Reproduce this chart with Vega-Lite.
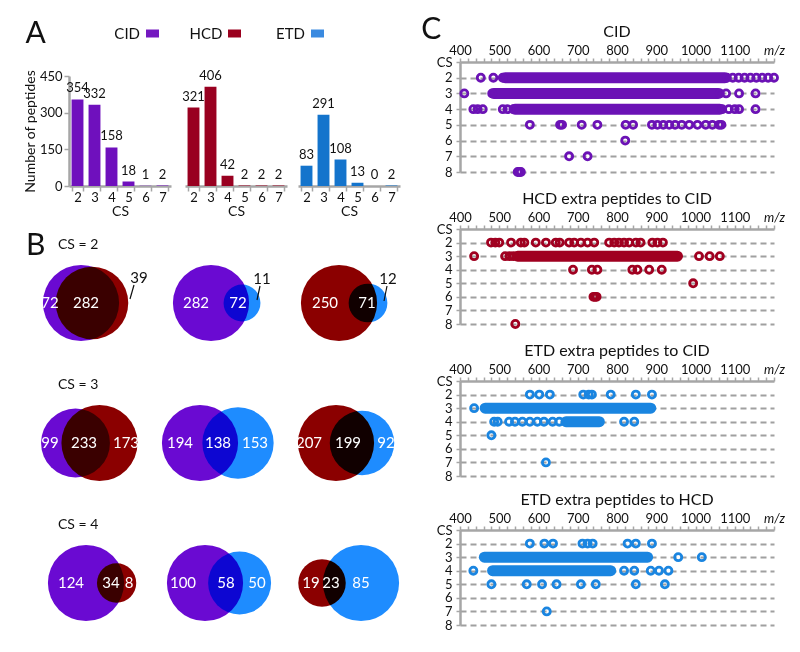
{
"$schema": "https://vega.github.io/schema/vega-lite/v6.json",
"background": "white",
"padding": {"left": 23, "top": 15, "right": 5, "bottom": 5},
"config": {
  "font": "Lato",
  "view": {"stroke": null},
  "axis": {"domainColor": "#a6a6a6", "domainWidth": 2.5, "tickColor": "#a6a6a6", "tickWidth": 1.5, "labelColor": "#111", "labelFont": "Lato", "labelFontSize": 13, "titleFont": "Lato", "titleFontSize": 14, "titleFontWeight": "normal", "titleColor": "#111", "grid": false},
  "title": {"font": "Lato", "fontWeight": "normal", "color": "#111"},
  "text": {"font": "Lato"}
},
"datasets": {
  "bars": [
    {"m": "CID", "cs": 2, "n": 354}, {"m": "CID", "cs": 3, "n": 332}, {"m": "CID", "cs": 4, "n": 158}, {"m": "CID", "cs": 5, "n": 18}, {"m": "CID", "cs": 6, "n": 1}, {"m": "CID", "cs": 7, "n": 2},
    {"m": "HCD", "cs": 2, "n": 321}, {"m": "HCD", "cs": 3, "n": 406}, {"m": "HCD", "cs": 4, "n": 42}, {"m": "HCD", "cs": 5, "n": 2}, {"m": "HCD", "cs": 6, "n": 2}, {"m": "HCD", "cs": 7, "n": 2},
    {"m": "ETD", "cs": 2, "n": 83}, {"m": "ETD", "cs": 3, "n": 291}, {"m": "ETD", "cs": 4, "n": 108}, {"m": "ETD", "cs": 5, "n": 13}, {"m": "ETD", "cs": 6, "n": 0}, {"m": "ETD", "cs": 7, "n": 2}
  ],
  "legend": [{"m": "CID"}, {"m": "HCD"}, {"m": "ETD"}],
  "venn": [
    {"cs": 2, "pair": "CID-HCD", "kind": "circle", "set": "CID", "n": 354, "x": 56, "y": 0},
    {"cs": 2, "pair": "CID-HCD", "kind": "circle", "set": "HCD", "n": 321, "x": 67, "y": 0},
    {"cs": 2, "pair": "CID-HCD", "kind": "in", "t": "72", "x": 25, "y": 0},
    {"cs": 2, "pair": "CID-HCD", "kind": "in", "t": "282", "x": 61, "y": 0},
    {"cs": 2, "pair": "CID-HCD", "kind": "out", "t": "39", "x": 114, "y": -25},
    {"cs": 2, "pair": "CID-HCD", "kind": "leader", "x": 109, "y": -18, "x2": 105, "y2": -4},
    {"cs": 2, "pair": "CID-HCD", "kind": "cs", "t": "CS = 2", "x": 33, "y": -58},
    {"cs": 2, "pair": "CID-ETD", "kind": "circle", "set": "CID", "n": 354, "x": 58, "y": 0},
    {"cs": 2, "pair": "CID-ETD", "kind": "circle", "set": "ETD", "n": 83, "x": 89, "y": 0},
    {"cs": 2, "pair": "CID-ETD", "kind": "in", "t": "282", "x": 43, "y": 0},
    {"cs": 2, "pair": "CID-ETD", "kind": "in", "t": "72", "x": 85, "y": 0},
    {"cs": 2, "pair": "CID-ETD", "kind": "out", "t": "11", "x": 109, "y": -24},
    {"cs": 2, "pair": "CID-ETD", "kind": "leader", "x": 107, "y": -17, "x2": 104, "y2": -3},
    {"cs": 2, "pair": "HCD-ETD", "kind": "circle", "set": "HCD", "n": 321, "x": 58, "y": 0},
    {"cs": 2, "pair": "HCD-ETD", "kind": "circle", "set": "ETD", "n": 83, "x": 87, "y": 0},
    {"cs": 2, "pair": "HCD-ETD", "kind": "in", "t": "250", "x": 44, "y": 0},
    {"cs": 2, "pair": "HCD-ETD", "kind": "in", "t": "71", "x": 86, "y": 0},
    {"cs": 2, "pair": "HCD-ETD", "kind": "out", "t": "12", "x": 107, "y": -24},
    {"cs": 2, "pair": "HCD-ETD", "kind": "leader", "x": 106, "y": -17, "x2": 103, "y2": -2},
    {"cs": 3, "pair": "CID-HCD", "kind": "circle", "set": "CID", "n": 332, "x": 50.5, "y": 0},
    {"cs": 3, "pair": "CID-HCD", "kind": "circle", "set": "HCD", "n": 406, "x": 74.5, "y": 0},
    {"cs": 3, "pair": "CID-HCD", "kind": "in", "t": "99", "x": 25, "y": 0},
    {"cs": 3, "pair": "CID-HCD", "kind": "in", "t": "233", "x": 59, "y": 0},
    {"cs": 3, "pair": "CID-HCD", "kind": "in", "t": "173", "x": 101, "y": 0},
    {"cs": 3, "pair": "CID-HCD", "kind": "cs", "t": "CS = 3", "x": 33, "y": -58},
    {"cs": 3, "pair": "CID-ETD", "kind": "circle", "set": "CID", "n": 332, "x": 47, "y": 0},
    {"cs": 3, "pair": "CID-ETD", "kind": "circle", "set": "ETD", "n": 291, "x": 85, "y": 0},
    {"cs": 3, "pair": "CID-ETD", "kind": "in", "t": "194", "x": 27, "y": 0},
    {"cs": 3, "pair": "CID-ETD", "kind": "in", "t": "138", "x": 65, "y": 0},
    {"cs": 3, "pair": "CID-ETD", "kind": "in", "t": "153", "x": 102, "y": 0},
    {"cs": 3, "pair": "HCD-ETD", "kind": "circle", "set": "HCD", "n": 406, "x": 55, "y": 0},
    {"cs": 3, "pair": "HCD-ETD", "kind": "circle", "set": "ETD", "n": 291, "x": 81, "y": 0},
    {"cs": 3, "pair": "HCD-ETD", "kind": "in", "t": "207", "x": 28, "y": 0},
    {"cs": 3, "pair": "HCD-ETD", "kind": "in", "t": "199", "x": 67, "y": 0},
    {"cs": 3, "pair": "HCD-ETD", "kind": "in", "t": "92", "x": 105, "y": 0},
    {"cs": 4, "pair": "CID-HCD", "kind": "circle", "set": "CID", "n": 158, "x": 61, "y": 0},
    {"cs": 4, "pair": "CID-HCD", "kind": "circle", "set": "HCD", "n": 42, "x": 91.6, "y": 0},
    {"cs": 4, "pair": "CID-HCD", "kind": "in", "t": "124", "x": 46, "y": 0},
    {"cs": 4, "pair": "CID-HCD", "kind": "in", "t": "34", "x": 86, "y": 0},
    {"cs": 4, "pair": "CID-HCD", "kind": "in", "t": "8", "x": 104, "y": 0},
    {"cs": 4, "pair": "CID-HCD", "kind": "cs", "t": "CS = 4", "x": 33, "y": -58},
    {"cs": 4, "pair": "CID-ETD", "kind": "circle", "set": "CID", "n": 158, "x": 52, "y": 0},
    {"cs": 4, "pair": "CID-ETD", "kind": "circle", "set": "ETD", "n": 108, "x": 86.6, "y": 0},
    {"cs": 4, "pair": "CID-ETD", "kind": "in", "t": "100", "x": 30, "y": 0},
    {"cs": 4, "pair": "CID-ETD", "kind": "in", "t": "58", "x": 73, "y": 0},
    {"cs": 4, "pair": "CID-ETD", "kind": "in", "t": "50", "x": 104, "y": 0},
    {"cs": 4, "pair": "HCD-ETD", "kind": "circle", "set": "HCD", "n": 42, "x": 41, "y": 0},
    {"cs": 4, "pair": "HCD-ETD", "kind": "circle", "set": "ETD", "n": 108, "x": 80, "y": 0},
    {"cs": 4, "pair": "HCD-ETD", "kind": "in", "t": "19", "x": 30, "y": 0},
    {"cs": 4, "pair": "HCD-ETD", "kind": "in", "t": "23", "x": 50, "y": 0},
    {"cs": 4, "pair": "HCD-ETD", "kind": "in", "t": "85", "x": 80, "y": 0}
  ],
  "mz": [
    {"p": "CID", "cs": 2, "mz": 453}, {"p": "CID", "cs": 2, "mz": 485}, {"p": "CID", "cs": 2, "mz": 509}, {"p": "CID", "cs": 2, "mz": 515, "mz2": 1075},
    {"p": "CID", "cs": 2, "mz": 1080}, {"p": "CID", "cs": 2, "mz": 1095}, {"p": "CID", "cs": 2, "mz": 1110}, {"p": "CID", "cs": 2, "mz": 1125}, {"p": "CID", "cs": 2, "mz": 1140}, {"p": "CID", "cs": 2, "mz": 1155}, {"p": "CID", "cs": 2, "mz": 1170}, {"p": "CID", "cs": 2, "mz": 1185}, {"p": "CID", "cs": 2, "mz": 1200},
    {"p": "CID", "cs": 3, "mz": 411}, {"p": "CID", "cs": 3, "mz": 482}, {"p": "CID", "cs": 3, "mz": 486, "mz2": 1058}, {"p": "CID", "cs": 3, "mz": 1062}, {"p": "CID", "cs": 3, "mz": 1078}, {"p": "CID", "cs": 3, "mz": 1111}, {"p": "CID", "cs": 3, "mz": 1153},
    {"p": "CID", "cs": 4, "mz": 434}, {"p": "CID", "cs": 4, "mz": 445}, {"p": "CID", "cs": 4, "mz": 458}, {"p": "CID", "cs": 4, "mz": 509}, {"p": "CID", "cs": 4, "mz": 521}, {"p": "CID", "cs": 4, "mz": 536}, {"p": "CID", "cs": 4, "mz": 540, "mz2": 1062},
    {"p": "CID", "cs": 4, "mz": 1068}, {"p": "CID", "cs": 4, "mz": 1085}, {"p": "CID", "cs": 4, "mz": 1100}, {"p": "CID", "cs": 4, "mz": 1111}, {"p": "CID", "cs": 4, "mz": 1153},
    {"p": "CID", "cs": 5, "mz": 578}, {"p": "CID", "cs": 5, "mz": 655}, {"p": "CID", "cs": 5, "mz": 660}, {"p": "CID", "cs": 5, "mz": 710}, {"p": "CID", "cs": 5, "mz": 750}, {"p": "CID", "cs": 5, "mz": 822}, {"p": "CID", "cs": 5, "mz": 841},
    {"p": "CID", "cs": 5, "mz": 889}, {"p": "CID", "cs": 5, "mz": 903}, {"p": "CID", "cs": 5, "mz": 918}, {"p": "CID", "cs": 5, "mz": 933}, {"p": "CID", "cs": 5, "mz": 948}, {"p": "CID", "cs": 5, "mz": 965}, {"p": "CID", "cs": 5, "mz": 984}, {"p": "CID", "cs": 5, "mz": 1005}, {"p": "CID", "cs": 5, "mz": 1026}, {"p": "CID", "cs": 5, "mz": 1043}, {"p": "CID", "cs": 5, "mz": 1060}, {"p": "CID", "cs": 5, "mz": 1066},
    {"p": "CID", "cs": 6, "mz": 821}, {"p": "CID", "cs": 7, "mz": 678}, {"p": "CID", "cs": 7, "mz": 725}, {"p": "CID", "cs": 8, "mz": 547}, {"p": "CID", "cs": 8, "mz": 551}, {"p": "CID", "cs": 8, "mz": 555},
    {"p": "HCD", "cs": 2, "mz": 479}, {"p": "HCD", "cs": 2, "mz": 490}, {"p": "HCD", "cs": 2, "mz": 500}, {"p": "HCD", "cs": 2, "mz": 530}, {"p": "HCD", "cs": 2, "mz": 555}, {"p": "HCD", "cs": 2, "mz": 564}, {"p": "HCD", "cs": 2, "mz": 593}, {"p": "HCD", "cs": 2, "mz": 619}, {"p": "HCD", "cs": 2, "mz": 644}, {"p": "HCD", "cs": 2, "mz": 654},
    {"p": "HCD", "cs": 2, "mz": 678}, {"p": "HCD", "cs": 2, "mz": 691}, {"p": "HCD", "cs": 2, "mz": 708}, {"p": "HCD", "cs": 2, "mz": 725}, {"p": "HCD", "cs": 2, "mz": 742}, {"p": "HCD", "cs": 2, "mz": 780}, {"p": "HCD", "cs": 2, "mz": 793}, {"p": "HCD", "cs": 2, "mz": 805}, {"p": "HCD", "cs": 2, "mz": 818}, {"p": "HCD", "cs": 2, "mz": 831},
    {"p": "HCD", "cs": 2, "mz": 848}, {"p": "HCD", "cs": 2, "mz": 860}, {"p": "HCD", "cs": 2, "mz": 890}, {"p": "HCD", "cs": 2, "mz": 903}, {"p": "HCD", "cs": 2, "mz": 917},
    {"p": "HCD", "cs": 3, "mz": 436}, {"p": "HCD", "cs": 3, "mz": 515}, {"p": "HCD", "cs": 3, "mz": 526}, {"p": "HCD", "cs": 3, "mz": 536}, {"p": "HCD", "cs": 3, "mz": 547, "mz2": 954}, {"p": "HCD", "cs": 3, "mz": 1009}, {"p": "HCD", "cs": 3, "mz": 1036}, {"p": "HCD", "cs": 3, "mz": 1062},
    {"p": "HCD", "cs": 4, "mz": 688}, {"p": "HCD", "cs": 4, "mz": 736}, {"p": "HCD", "cs": 4, "mz": 750}, {"p": "HCD", "cs": 4, "mz": 839}, {"p": "HCD", "cs": 4, "mz": 852}, {"p": "HCD", "cs": 4, "mz": 882}, {"p": "HCD", "cs": 4, "mz": 914},
    {"p": "HCD", "cs": 5, "mz": 994}, {"p": "HCD", "cs": 6, "mz": 740}, {"p": "HCD", "cs": 6, "mz": 744}, {"p": "HCD", "cs": 6, "mz": 748}, {"p": "HCD", "cs": 8, "mz": 541},
    {"p": "ETDC", "cs": 2, "mz": 578}, {"p": "ETDC", "cs": 2, "mz": 602}, {"p": "ETDC", "cs": 2, "mz": 629}, {"p": "ETDC", "cs": 2, "mz": 714}, {"p": "ETDC", "cs": 2, "mz": 728}, {"p": "ETDC", "cs": 2, "mz": 736}, {"p": "ETDC", "cs": 2, "mz": 784}, {"p": "ETDC", "cs": 2, "mz": 848}, {"p": "ETDC", "cs": 2, "mz": 889},
    {"p": "ETDC", "cs": 3, "mz": 436}, {"p": "ETDC", "cs": 3, "mz": 464, "mz2": 886},
    {"p": "ETDC", "cs": 4, "mz": 487}, {"p": "ETDC", "cs": 4, "mz": 496}, {"p": "ETDC", "cs": 4, "mz": 525}, {"p": "ETDC", "cs": 4, "mz": 540}, {"p": "ETDC", "cs": 4, "mz": 559}, {"p": "ETDC", "cs": 4, "mz": 578}, {"p": "ETDC", "cs": 4, "mz": 597}, {"p": "ETDC", "cs": 4, "mz": 614}, {"p": "ETDC", "cs": 4, "mz": 636}, {"p": "ETDC", "cs": 4, "mz": 653},
    {"p": "ETDC", "cs": 4, "mz": 670, "mz2": 755}, {"p": "ETDC", "cs": 4, "mz": 818}, {"p": "ETDC", "cs": 4, "mz": 844},
    {"p": "ETDC", "cs": 5, "mz": 480}, {"p": "ETDC", "cs": 7, "mz": 619},
    {"p": "ETDH", "cs": 2, "mz": 578}, {"p": "ETDH", "cs": 2, "mz": 615}, {"p": "ETDH", "cs": 2, "mz": 637}, {"p": "ETDH", "cs": 2, "mz": 712}, {"p": "ETDH", "cs": 2, "mz": 725}, {"p": "ETDH", "cs": 2, "mz": 738}, {"p": "ETDH", "cs": 2, "mz": 827}, {"p": "ETDH", "cs": 2, "mz": 848}, {"p": "ETDH", "cs": 2, "mz": 889},
    {"p": "ETDH", "cs": 3, "mz": 462, "mz2": 878}, {"p": "ETDH", "cs": 3, "mz": 956}, {"p": "ETDH", "cs": 3, "mz": 1016},
    {"p": "ETDH", "cs": 4, "mz": 434}, {"p": "ETDH", "cs": 4, "mz": 483, "mz2": 784}, {"p": "ETDH", "cs": 4, "mz": 818}, {"p": "ETDH", "cs": 4, "mz": 844}, {"p": "ETDH", "cs": 4, "mz": 886}, {"p": "ETDH", "cs": 4, "mz": 907}, {"p": "ETDH", "cs": 4, "mz": 931},
    {"p": "ETDH", "cs": 5, "mz": 480}, {"p": "ETDH", "cs": 5, "mz": 570}, {"p": "ETDH", "cs": 5, "mz": 609}, {"p": "ETDH", "cs": 5, "mz": 646}, {"p": "ETDH", "cs": 5, "mz": 708}, {"p": "ETDH", "cs": 5, "mz": 746}, {"p": "ETDH", "cs": 5, "mz": 848}, {"p": "ETDH", "cs": 5, "mz": 922},
    {"p": "ETDH", "cs": 7, "mz": 621}
  ]
},
"hconcat": [
  {
    "vconcat": [
      {
        "vconcat": [
          {
            "data": {"name": "legend"},
            "width": 330, "height": 1,
            "mark": {"type": "point", "opacity": 0},
            "encoding": {"x": {"field": "m", "type": "nominal", "sort": ["CID", "HCD", "ETD"], "scale": {"type": "point", "padding": 1.357, "align": 0.5},
              "axis": {"orient": "top", "offset": 25, "domain": false, "ticks": true, "tickSize": 8, "tickWidth": 13,
                       "tickColor": {"condition": [{"test": "datum.value == 'CID'", "value": "#7418c0"}, {"test": "datum.value == 'HCD'", "value": "#9a001e"}], "value": "#3a8ae0"},
                       "labelAlign": "right", "labelBaseline": "middle", "labelPadding": -4, "labelOffset": -12, "labelFontSize": 15, "labelColor": "#111", "labelAngle": 0,
                       "title": "A", "titleFontSize": 30, "titleX": -44, "titleY": -4, "titleAlign": "left", "titleBaseline": "middle", "titleAngle": 0}}}
          },
          {
            "hconcat": [
              {
                "data": {"name": "bars"}, "transform": [{"filter": "datum.m == 'CID'"}],
                "width": 102, "height": 110,
                "encoding": {
                  "x": {"field": "cs", "type": "ordinal", "title": "CS", "scale": {"paddingInner": 0.3, "paddingOuter": 0.15}, "axis": {"labelAngle": 0, "ticks": true, "tickBand": "extent", "tickSize": 5, "labelPadding": 0, "titlePadding": 0}},
                  "y": {"field": "n", "type": "quantitative", "scale": {"domain": [0, 450], "nice": false}, "title": "Number of peptides", "axis": {"values": [0, 150, 300, 450], "tickSize": 5, "labelPadding": 2, "titlePadding": 2}}
                },
                "layer": [
                  {"mark": {"type": "bar", "color": "#6f10bd"}},
                  {"mark": {"type": "text", "baseline": "bottom", "dy": -4, "fontSize": 13, "color": "#111"}, "encoding": {"text": {"field": "n"}}}
                ]
              },
              {
                "data": {"name": "bars"}, "transform": [{"filter": "datum.m == 'HCD'"}],
                "width": 102, "height": 110,
                "encoding": {
                  "x": {"field": "cs", "type": "ordinal", "title": "CS", "scale": {"paddingInner": 0.3, "paddingOuter": 0.15}, "axis": {"labelAngle": 0, "ticks": true, "tickBand": "extent", "tickSize": 5, "labelPadding": 0, "titlePadding": 0}},
                  "y": {"field": "n", "type": "quantitative", "scale": {"domain": [0, 450], "nice": false}, "axis": null}
                },
                "layer": [
                  {"mark": {"type": "bar", "color": "#990020"}},
                  {"mark": {"type": "text", "baseline": "bottom", "dy": -4, "fontSize": 13, "color": "#111"}, "encoding": {"text": {"field": "n"}}}
                ]
              },
              {
                "data": {"name": "bars"}, "transform": [{"filter": "datum.m == 'ETD'"}],
                "width": 102, "height": 110,
                "encoding": {
                  "x": {"field": "cs", "type": "ordinal", "title": "CS", "scale": {"paddingInner": 0.3, "paddingOuter": 0.15}, "axis": {"labelAngle": 0, "ticks": true, "tickBand": "extent", "tickSize": 5, "labelPadding": 0, "titlePadding": 0}},
                  "y": {"field": "n", "type": "quantitative", "scale": {"domain": [0, 450], "nice": false}, "axis": null}
                },
                "layer": [
                  {"mark": {"type": "bar", "color": "#1474cc"}},
                  {"mark": {"type": "text", "baseline": "bottom", "dy": -4, "fontSize": 13, "color": "#111"}, "encoding": {"text": {"field": "n"}}}
                ]
              }
            ],
            "spacing": 11
          }
        ],
        "spacing": 3
      },
      {
        "data": {"name": "venn"},
        "title": {"text": "B", "anchor": "start", "fontSize": 30, "offset": 0, "dy": 33, "dx": -15},
        "facet": {
          "row": {"field": "cs", "type": "ordinal", "header": null},
          "column": {"field": "pair", "type": "nominal", "sort": ["CID-HCD", "CID-ETD", "HCD-ETD"], "header": null}
        },
        "bounds": "flush",
        "spacing": {"row": 0, "column": 50},
        "resolve": {"scale": {"size": "independent"}},
        "spec": {
          "width": 78, "height": 140,
          "encoding": {
            "x": {"field": "x", "type": "quantitative", "scale": {"domain": [44, 122], "nice": false, "zero": false}, "axis": null},
            "y": {"field": "y", "type": "quantitative", "scale": {"domain": [-75, 65], "nice": false, "zero": false, "reverse": true}, "axis": null}
          },
          "layer": [
            {"transform": [{"filter": "datum.kind == 'circle'"}],
             "mark": {"type": "point", "shape": "circle", "filled": true, "opacity": 1, "blend": "multiply", "clip": false},
             "encoding": {
               "size": {"field": "n", "type": "quantitative", "scale": {"zero": true, "range": [0, 5800]}, "legend": null},
               "color": {"field": "set", "type": "nominal", "scale": {"domain": ["CID", "HCD", "ETD"], "range": ["#6a0ad2", "#8b0000", "#1e8cff"]}, "legend": null}
             }},
            {"transform": [{"filter": "datum.kind == 'leader'"}], "mark": {"type": "rule", "color": "#111", "strokeWidth": 1.2}, "encoding": {"x2": {"field": "x2"}, "y2": {"field": "y2"}}},
            {"transform": [{"filter": "datum.kind == 'in'"}], "mark": {"type": "text", "color": "white", "fontSize": 15}, "encoding": {"text": {"field": "t"}}},
            {"transform": [{"filter": "datum.kind == 'out'"}], "mark": {"type": "text", "color": "#111", "fontSize": 15}, "encoding": {"text": {"field": "t"}}},
            {"transform": [{"filter": "datum.kind == 'cs'"}], "mark": {"type": "text", "align": "left", "color": "#111", "fontSize": 14}, "encoding": {"text": {"field": "t"}}}
          ]
        }
      }
    ],
    "spacing": 10
  },
  {
    "title": {"text": "C", "anchor": "start", "fontSize": 30, "offset": 0, "dy": 21, "dx": -15},
    "vconcat": [
      {
        "data": {"name": "mz"}, "transform": [{"filter": "datum.p == 'CID'"}],
        "title": {"text": "CID", "fontSize": 16, "offset": 4},
        "width": 314, "height": 110,
        "encoding": {
          "x": {"field": "mz", "type": "quantitative", "scale": {"domain": [400, 1200], "nice": false, "zero": false},
                "axis": {"orient": "top", "title": null, "format": "d", "values": [400,420,440,460,480,500,520,540,560,580,600,620,640,660,680,700,720,740,760,780,800,820,840,860,880,900,920,940,960,980,1000,1020,1040,1060,1080,1100,1120,1140,1160,1180,1200],
                         "labelExpr": "datum.value == 1200 ? 'm/z' : (datum.value % 100 == 0 ? datum.label : '')",
                         "labelFontStyle": {"condition": {"test": "datum.value == 1200", "value": "italic"}, "value": "normal"},
                         "tickSize": 4, "labelPadding": 1, "labelOverlap": false, "labelFlush": false}},
          "y": {"field": "cs", "type": "quantitative", "scale": {"domain": [1, 8], "nice": false, "zero": false, "reverse": true},
                "axis": {"title": null, "values": [1,2,3,4,5,6,7,8], "labelExpr": "datum.value == 1 ? 'CS' : datum.label", "grid": true, "gridDash": [6, 4], "gridColor": "#a0a0a0", "gridWidth": 2,
                         "gridOpacity": {"condition": {"test": "datum.value == 1", "value": 0}, "value": 1}, "tickSize": 4, "labelPadding": 4}}
        },
        "layer": [
          {"transform": [{"filter": "isValid(datum.mz2)"}], "mark": {"type": "rule", "strokeWidth": 11, "strokeCap": "round", "color": "#6b12b5"}, "encoding": {"x2": {"field": "mz2"}}},
          {"transform": [{"filter": "!isValid(datum.mz2)"}], "mark": {"type": "point", "shape": "circle", "size": 50, "strokeWidth": 2.8, "color": "#6b12b5", "opacity": 1}}
        ]
      },
      {
        "data": {"name": "mz"}, "transform": [{"filter": "datum.p == 'HCD'"}],
        "title": {"text": "HCD extra peptides to CID", "fontSize": 16, "offset": 4},
        "width": 314, "height": 95,
        "encoding": {
          "x": {"field": "mz", "type": "quantitative", "scale": {"domain": [400, 1200], "nice": false, "zero": false},
                "axis": {"orient": "top", "title": null, "format": "d", "values": [400,420,440,460,480,500,520,540,560,580,600,620,640,660,680,700,720,740,760,780,800,820,840,860,880,900,920,940,960,980,1000,1020,1040,1060,1080,1100,1120,1140,1160,1180,1200],
                         "labelExpr": "datum.value == 1200 ? 'm/z' : (datum.value % 100 == 0 ? datum.label : '')",
                         "labelFontStyle": {"condition": {"test": "datum.value == 1200", "value": "italic"}, "value": "normal"},
                         "tickSize": 4, "labelPadding": 1, "labelOverlap": false, "labelFlush": false}},
          "y": {"field": "cs", "type": "quantitative", "scale": {"domain": [1, 8], "nice": false, "zero": false, "reverse": true},
                "axis": {"title": null, "values": [1,2,3,4,5,6,7,8], "labelExpr": "datum.value == 1 ? 'CS' : datum.label", "grid": true, "gridDash": [6, 4], "gridColor": "#a0a0a0", "gridWidth": 2,
                         "gridOpacity": {"condition": {"test": "datum.value == 1", "value": 0}, "value": 1}, "tickSize": 4, "labelPadding": 4}}
        },
        "layer": [
          {"transform": [{"filter": "isValid(datum.mz2)"}], "mark": {"type": "rule", "strokeWidth": 11, "strokeCap": "round", "color": "#a00020"}, "encoding": {"x2": {"field": "mz2"}}},
          {"transform": [{"filter": "!isValid(datum.mz2)"}], "mark": {"type": "point", "shape": "circle", "size": 50, "strokeWidth": 2.8, "color": "#a00020", "opacity": 1}}
        ]
      },
      {
        "data": {"name": "mz"}, "transform": [{"filter": "datum.p == 'ETDC'"}],
        "title": {"text": "ETD extra peptides to CID", "fontSize": 16, "offset": 4},
        "width": 314, "height": 95,
        "encoding": {
          "x": {"field": "mz", "type": "quantitative", "scale": {"domain": [400, 1200], "nice": false, "zero": false},
                "axis": {"orient": "top", "title": null, "format": "d", "values": [400,420,440,460,480,500,520,540,560,580,600,620,640,660,680,700,720,740,760,780,800,820,840,860,880,900,920,940,960,980,1000,1020,1040,1060,1080,1100,1120,1140,1160,1180,1200],
                         "labelExpr": "datum.value == 1200 ? 'm/z' : (datum.value % 100 == 0 ? datum.label : '')",
                         "labelFontStyle": {"condition": {"test": "datum.value == 1200", "value": "italic"}, "value": "normal"},
                         "tickSize": 4, "labelPadding": 1, "labelOverlap": false, "labelFlush": false}},
          "y": {"field": "cs", "type": "quantitative", "scale": {"domain": [1, 8], "nice": false, "zero": false, "reverse": true},
                "axis": {"title": null, "values": [1,2,3,4,5,6,7,8], "labelExpr": "datum.value == 1 ? 'CS' : datum.label", "grid": true, "gridDash": [6, 4], "gridColor": "#a0a0a0", "gridWidth": 2,
                         "gridOpacity": {"condition": {"test": "datum.value == 1", "value": 0}, "value": 1}, "tickSize": 4, "labelPadding": 4}}
        },
        "layer": [
          {"transform": [{"filter": "isValid(datum.mz2)"}], "mark": {"type": "rule", "strokeWidth": 11, "strokeCap": "round", "color": "#1a85e0"}, "encoding": {"x2": {"field": "mz2"}}},
          {"transform": [{"filter": "!isValid(datum.mz2)"}], "mark": {"type": "point", "shape": "circle", "size": 50, "strokeWidth": 2.8, "color": "#1a85e0", "opacity": 1}}
        ]
      },
      {
        "data": {"name": "mz"}, "transform": [{"filter": "datum.p == 'ETDH'"}],
        "title": {"text": "ETD extra peptides to HCD", "fontSize": 16, "offset": 4},
        "width": 314, "height": 95,
        "encoding": {
          "x": {"field": "mz", "type": "quantitative", "scale": {"domain": [400, 1200], "nice": false, "zero": false},
                "axis": {"orient": "top", "title": null, "format": "d", "values": [400,420,440,460,480,500,520,540,560,580,600,620,640,660,680,700,720,740,760,780,800,820,840,860,880,900,920,940,960,980,1000,1020,1040,1060,1080,1100,1120,1140,1160,1180,1200],
                         "labelExpr": "datum.value == 1200 ? 'm/z' : (datum.value % 100 == 0 ? datum.label : '')",
                         "labelFontStyle": {"condition": {"test": "datum.value == 1200", "value": "italic"}, "value": "normal"},
                         "tickSize": 4, "labelPadding": 1, "labelOverlap": false, "labelFlush": false}},
          "y": {"field": "cs", "type": "quantitative", "scale": {"domain": [1, 8], "nice": false, "zero": false, "reverse": true},
                "axis": {"title": null, "values": [1,2,3,4,5,6,7,8], "labelExpr": "datum.value == 1 ? 'CS' : datum.label", "grid": true, "gridDash": [6, 4], "gridColor": "#a0a0a0", "gridWidth": 2,
                         "gridOpacity": {"condition": {"test": "datum.value == 1", "value": 0}, "value": 1}, "tickSize": 4, "labelPadding": 4}}
        },
        "layer": [
          {"transform": [{"filter": "isValid(datum.mz2)"}], "mark": {"type": "rule", "strokeWidth": 11, "strokeCap": "round", "color": "#1a85e0"}, "encoding": {"x2": {"field": "mz2"}}},
          {"transform": [{"filter": "!isValid(datum.mz2)"}], "mark": {"type": "point", "shape": "circle", "size": 50, "strokeWidth": 2.8, "color": "#1a85e0", "opacity": 1}}
        ]
      }
    ],
    "spacing": 9
  }
],
"spacing": 18
}
